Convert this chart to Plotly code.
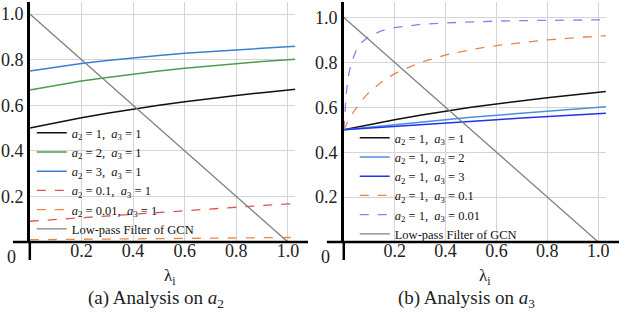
import plotly.graph_objects as go

# ---------------- data ----------------
lam = [0, 0.1, 0.2, 0.3, 0.4, 0.5, 0.6, 0.7, 0.8, 0.9, 1.0, 1.03]

# panel (a): varying a2, a3 = 1
a_11 = [0.500, 0.524, 0.545, 0.565, 0.583, 0.600, 0.615, 0.630, 0.643, 0.655, 0.667, 0.670]
a_21 = [0.667, 0.688, 0.706, 0.722, 0.737, 0.750, 0.762, 0.773, 0.783, 0.792, 0.800, 0.802]
a_31 = [0.750, 0.767, 0.783, 0.796, 0.808, 0.818, 0.828, 0.836, 0.844, 0.851, 0.857, 0.859]
a_p1 = [0.091, 0.099, 0.107, 0.115, 0.123, 0.130, 0.138, 0.145, 0.153, 0.160, 0.167, 0.169]
a_p01 = [0.010, 0.011, 0.012, 0.013, 0.014, 0.015, 0.016, 0.017, 0.018, 0.019, 0.020, 0.020]

# panel (b): a2 = 1, varying a3
b_12 = [0.500, 0.512, 0.524, 0.535, 0.545, 0.556, 0.565, 0.574, 0.583, 0.592, 0.600, 0.602]
b_13 = [0.500, 0.508, 0.516, 0.524, 0.531, 0.538, 0.545, 0.552, 0.559, 0.565, 0.571, 0.573]

lam_p1 = [0, 0.01, 0.02, 0.04, 0.06, 0.08, 0.1, 0.15, 0.2, 0.3, 0.4, 0.5, 0.6, 0.7, 0.8, 0.9, 1.0, 1.03]
b_p1 = [0.500, 0.524, 0.545, 0.583, 0.615, 0.643, 0.667, 0.714, 0.750, 0.800, 0.833, 0.857,
        0.875, 0.889, 0.900, 0.909, 0.917, 0.919]

lam_p01 = [0, 0.002, 0.005, 0.01, 0.02, 0.03, 0.05, 0.07, 0.1, 0.15, 0.2, 0.3, 0.4, 0.5,
           0.6, 0.7, 0.8, 0.9, 1.0, 1.03]
b_p01 = [0.500, 0.545, 0.600, 0.667, 0.750, 0.800, 0.857, 0.889, 0.917, 0.941, 0.955, 0.969,
         0.976, 0.981, 0.984, 0.986, 0.988, 0.989, 0.990, 0.990]

lowpass_x = [0, 1.0]
lowpass_y = [1.0, 0.0]

ticks = [0.2, 0.4, 0.6, 0.8, 1.0]
tick_text = ["0.2", "0.4", "0.6", "0.8", "1.0"]

NB = "\u00a0"


def lab(a2, a3):
    return (f"<i>a</i><sub>2</sub> = {a2},{NB} "
            f"<i>a</i><sub>3</sub> = {a3}")


SERIF = "Liberation Serif, Times New Roman, serif"
TXT = "#222222"

fig = go.Figure()

left = [
    (a_11, lab(1, 1), "#111111", "solid", 1.5),
    (a_21, lab(2, 1), "#4f9a4f", "solid", 1.5),
    (a_31, lab(3, 1), "#3b7fd4", "solid", 1.5),
    (a_p1, lab(0.1, 1), "#e05252", "dash", 1.3),
    (a_p01, lab(0.01, 1), "#ef8640", "dash", 1.3),
]
for ys, name, col, dash, w in left:
    fig.add_trace(go.Scatter(x=lam, y=ys, mode="lines", name=name,
                             line=dict(color=col, dash=dash, width=w),
                             xaxis="x", yaxis="y", legend="legend"))
fig.add_trace(go.Scatter(x=lowpass_x, y=lowpass_y, mode="lines", name="Low-pass Filter of GCN",
                         line=dict(color="#808080", width=1.3), xaxis="x", yaxis="y",
                         legend="legend"))

right = [
    (lam, a_11, lab(1, 1), "#111111", "solid", 1.5),
    (lam, b_12, lab(1, 2), "#4a8fe0", "solid", 1.5),
    (lam, b_13, lab(1, 3), "#2233ee", "solid", 1.5),
    (lam_p1, b_p1, lab(1, 0.1), "#e8844a", "dash", 1.3),
    (lam_p01, b_p01, lab(1, 0.01), "#8a80e6", "dash", 1.3),
]
for xs, ys, name, col, dash, w in right:
    fig.add_trace(go.Scatter(x=xs, y=ys, mode="lines", name=name,
                             line=dict(color=col, dash=dash, width=w),
                             xaxis="x2", yaxis="y2", legend="legend2"))
fig.add_trace(go.Scatter(x=lowpass_x, y=lowpass_y, mode="lines", name="Low-pass Filter of GCN",
                         line=dict(color="#808080", width=1.3), xaxis="x2", yaxis="y2",
                         legend="legend2"))

W, H = 626, 318
xd1 = [30 / W, 297 / W]
xd2 = [346 / W, 610 / W]
yd = [(H - 242) / H, (H - 2) / H]
xlab_pos = (H - 238) / H   # tick labels sit close under the x axis line

tickcommon = dict(showgrid=True, gridcolor="#d4d4d4", gridwidth=1, zeroline=False,
                  ticks="", ticklen=0, tickmode="array", tickvals=ticks, ticktext=tick_text,
                  tickfont=dict(family=SERIF, size=18, color=TXT))

legend_common = dict(xanchor="left", yanchor="top", bgcolor="rgba(0,0,0,0)",
                     font=dict(family=SERIF, size=12.5, color="#111111"),
                     tracegroupgap=0, itemwidth=30)

fig.update_layout(
    width=W, height=H, margin=dict(l=0, r=0, t=0, b=0),
    paper_bgcolor="white", plot_bgcolor="white",
    showlegend=True,
    xaxis=dict(domain=xd1, range=[0, 1.028], anchor="free", position=xlab_pos,
               showline=False, **tickcommon),
    yaxis=dict(domain=yd, range=[0, 1.053], anchor="x", showline=True, linecolor="black",
               linewidth=2.5, **tickcommon),
    xaxis2=dict(domain=xd2, range=[0, 1.031], anchor="free", position=xlab_pos,
                showline=False, **tickcommon),
    yaxis2=dict(domain=yd, range=[0, 1.069], anchor="x2", showline=True, linecolor="black",
                linewidth=2.5, **tickcommon),
    legend=dict(x=32 / W, y=(H - 118) / H, **legend_common),
    legend2=dict(x=357 / W, y=(H - 123) / H, **legend_common),
)

# crossing axis lines: x axis at y = 0 extending past both ends, y axis extending below 0
for xr, yr, dx_left, dx_right in [("x domain", "y domain", -17 / 267, 13 / 267),
                                  ("x2 domain", "y2 domain", -17 / 264, 13 / 264)]:
    fig.add_shape(type="line", xref=xr, yref=yr, x0=dx_left, x1=1 + dx_right, y0=0, y1=0,
                  line=dict(color="black", width=2.5))
    fig.add_shape(type="line", xref=xr, yref=yr, x0=0, x1=0, y0=0, y1=-18 / 240,
                  line=dict(color="black", width=2.5))

# origin "0" labels, axis titles and captions
for xr, yr in [("x domain", "y domain"), ("x2 domain", "y2 domain")]:
    fig.add_annotation(text="0", xref=xr, yref=yr, x=0, y=0, xshift=-18, yshift=-15,
                       xanchor="center", yanchor="middle",
                       showarrow=False, font=dict(family=SERIF, size=18, color=TXT))

fig.add_annotation(text="λ<sub>i</sub>", xref="x domain", yref="y domain", x=0.53, y=0,
                   yshift=-35, xanchor="center", yanchor="middle",
                   showarrow=False, font=dict(family=SERIF, size=17, color=TXT))
fig.add_annotation(text="λ<sub>i</sub>", xref="x2 domain", yref="y2 domain", x=0.54, y=0,
                   yshift=-35, xanchor="center", yanchor="middle",
                   showarrow=False, font=dict(family=SERIF, size=17, color=TXT))

fig.add_annotation(text="(a) Analysis on <i>a</i><sub>2</sub>", xref="paper", yref="paper",
                   x=157 / W, y=(H - 299) / H, xanchor="center", yanchor="middle",
                   showarrow=False, font=dict(family=SERIF, size=19, color=TXT))
fig.add_annotation(text="(b) Analysis on <i>a</i><sub>3</sub>", xref="paper", yref="paper",
                   x=470 / W, y=(H - 299) / H, xanchor="center", yanchor="middle",
                   showarrow=False, font=dict(family=SERIF, size=19, color=TXT))

fig.write_html("out.html", config={"displayModeBar": False},
               post_script="document.body.style.margin='0';")
